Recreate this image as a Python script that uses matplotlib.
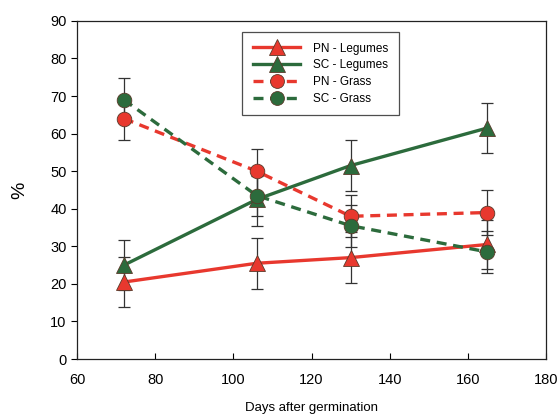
import matplotlib.pyplot as plt
import numpy as np

plt.rcParams['font.family'] = ['Liberation Sans', 'DejaVu Sans']

days = [72, 106, 130, 165]

pn_legumes = [20.5, 25.5, 27.0, 30.5]
pn_legumes_err = [6.7, 6.8, 6.7, 6.5]
sc_legumes = [25.0, 42.5, 51.5, 61.5]
sc_legumes_err = [6.7, 7.0, 6.8, 6.7]
pn_grass = [64.0, 50.0, 38.0, 39.0]
pn_grass_err = [5.8, 5.8, 5.6, 6.0]
sc_grass = [69.0, 43.5, 35.5, 28.5]
sc_grass_err = [5.7, 5.3, 5.6, 5.5]

red = '#e8382e'
green = '#2c6b3c'

fig = plt.figure(figsize=(5.6, 4.18), dpi=100)
ax = fig.add_axes([0.1375, 0.141, 0.8375, 0.809])

series = [
    ('PN - Legumes', pn_legumes, pn_legumes_err, red, '-', '^'),
    ('SC - Legumes', sc_legumes, sc_legumes_err, green, '-', '^'),
    ('PN - Grass', pn_grass, pn_grass_err, red, (0, (3, 2)), 'o'),
    ('SC - Grass', sc_grass, sc_grass_err, green, (0, (3, 2)), 'o'),
]

handles = []
for label, vals, err, col, ls, mk in series:
    ax.errorbar(days, vals, yerr=err, fmt='none', ecolor='#333333',
                elinewidth=0.9, capsize=4, capthick=0.9, zorder=2)
    h, = ax.plot(days, vals, color=col, linestyle=ls, linewidth=2.4,
                 marker=mk, markersize=10.5 if mk == 'o' else 11.5,
                 markerfacecolor=col, markeredgecolor='#5a3a2a',
                 markeredgewidth=0.6, label=label, zorder=3)
    handles.append(h)

ax.set_xlim(60, 180)
ax.set_ylim(0, 90)
ax.set_xticks(np.arange(60, 181, 20))
ax.set_yticks(np.arange(0, 91, 10))
ax.tick_params(axis='x', direction='in', labelsize=10.5, pad=10, length=4)
ax.tick_params(axis='y', direction='out', labelsize=10.5, length=4)
for s in ax.spines.values():
    s.set_linewidth(0.9)
    s.set_color('#222222')

ax.set_xlabel('Days after germination', fontsize=9.5, labelpad=11)
ax.set_ylabel('%', fontsize=14, labelpad=16)

leg = ax.legend(handles=handles, loc='upper left', bbox_to_anchor=(0.34, 0.985),
                fontsize=8.5, frameon=True, fancybox=False, edgecolor='#222222',
                handlelength=4.0, labelspacing=0.4, borderpad=0.9,
                handletextpad=1.1, markerscale=0.95)
leg.get_frame().set_linewidth(0.9)

fig.savefig('out.png', dpi=100)
